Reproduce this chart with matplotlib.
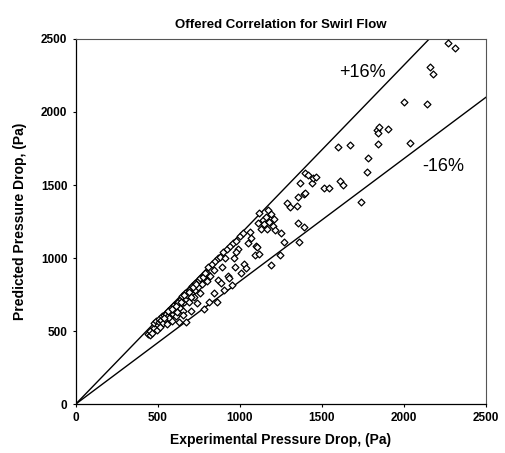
import matplotlib
matplotlib.use("Agg")
import matplotlib.pyplot as plt

plt.rcParams['font.family'] = ['Liberation Sans', 'DejaVu Sans']

# experimental vs predicted pressure drop, Pa
exp_pa = [440, 450, 455, 465, 475, 480, 490, 495, 500, 505, 510, 515, 520, 525, 530,
          540, 545, 550, 555, 560, 565, 570, 575, 580, 585, 590, 600, 605, 610, 615,
          620, 625, 630, 635, 640, 645, 650, 655, 660, 665, 670, 675, 680, 690, 695,
          700, 705, 710, 720, 725, 730, 740, 745, 750, 760,
          535, 560, 585, 610, 640, 660, 690, 715, 735, 755, 780, 800, 615, 655, 700,
          770, 775, 780, 790, 800, 805, 810, 820, 830, 840, 850, 860, 865, 870, 880,
          890, 900, 905, 910, 920, 930, 940, 950, 960, 965, 970, 980, 990, 1000, 1010,
          1020, 1025, 1040, 1050, 1060, 1070, 845, 885, 935, 975,
          1090, 1100, 1102, 1110, 1118, 1120, 1130, 1140, 1150, 1160, 1165, 1170, 1180,
          1188, 1190, 1200, 1210, 1215, 1244, 1251, 1271, 1285, 1305, 1346, 1352, 1356,
          1362, 1393, 1393,
          1366, 1397, 1417, 1438, 1448, 1464, 1397, 1513, 1541, 1610, 1627, 1600, 1671,
          1739, 1777, 1779, 1834, 1840, 1842, 1846, 1905, 2001, 2035, 2143, 2159, 2176,
          2267, 2314]
pred_pa = [480, 470, 500, 490, 520, 555, 570, 510, 540, 565, 585, 530, 575, 600, 555,
           610, 580, 620, 545, 600, 640, 590, 630, 660, 570, 620, 680, 640, 600, 690,
           650, 700, 560, 660, 720, 690, 740, 640, 700, 760, 720, 560, 750, 700, 790,
           640, 760, 810, 730, 780, 830, 690, 800, 850, 760,
           590, 640, 650, 670, 700, 745, 770, 800, 820, 860, 880, 900, 630, 610, 730,
           820, 870, 650, 900, 840, 940, 700, 880, 960, 920, 980, 700, 1000, 850, 1010,
           940, 1040, 780, 1000, 1060, 880, 1080, 815, 1100, 1000, 940, 1120, 1060, 1150, 900,
           1170, 960, 930, 1100, 1180, 1140, 760, 830, 860, 1040,
           1020, 1080, 1078, 1240, 1025, 1306, 1200, 1260, 1230, 1280, 1200, 1330, 1250,
           952, 1300, 1220, 1270, 1190, 1021, 1174, 1110, 1379, 1347, 1356, 1242, 1416,
           1110, 1439, 1210,
           1512, 1580, 1569, 1512, 1546, 1557, 1443, 1478, 1478, 1528, 1500, 1758, 1777,
           1384, 1587, 1685, 1877, 1784, 1859, 1895, 1886, 2069, 1788, 2055, 2311, 2260,
           2471, 2437]

band = 0.16
ticks = [0, 500, 1000, 1500, 2000, 2500]

fig = plt.figure(figsize=(5.05, 4.53), dpi=100)
ax = fig.add_axes([0.150, 0.108, 0.812, 0.806])

ax.plot([0, 2500], [0, 2500 * (1 + band)], color='black', lw=1.0)
ax.plot([0, 2500], [0, 2500 * (1 - band)], color='black', lw=1.0)
ax.scatter(exp_pa, pred_pa, marker='D', s=12, facecolors='white',
           edgecolors='black', linewidths=0.9, zorder=3)

ax.text(1750, 2270, '+16%', fontsize=13, ha='center', va='center')
ax.text(2240, 1625, '-16%', fontsize=13, ha='center', va='center')

ax.set_xlim(0, 2500)
ax.set_ylim(0, 2500)
ax.set_xticks(ticks)
ax.set_yticks(ticks)
ax.tick_params(direction='out', length=2.5, width=0.8, labelsize=8.5)
for lab in ax.get_xticklabels() + ax.get_yticklabels():
    lab.set_fontweight('bold')

for side in ['top', 'right']:
    ax.spines[side].set_color('#555555')
    ax.spines[side].set_linestyle((0, (1, 1)))
    ax.spines[side].set_linewidth(0.8)
for side in ['left', 'bottom']:
    ax.spines[side].set_color('black')
    ax.spines[side].set_linewidth(0.9)

ax.set_title("Offered Correlation for Swirl Flow", fontsize=9.5, fontweight='bold', pad=8)
ax.set_xlabel("Experimental Pressure Drop, (Pa)", fontsize=10, fontweight='bold', labelpad=6)
ax.set_ylabel("Predicted Pressure Drop, (Pa)", fontsize=10, fontweight='bold', labelpad=10)

fig.savefig("out.png", dpi=100)
